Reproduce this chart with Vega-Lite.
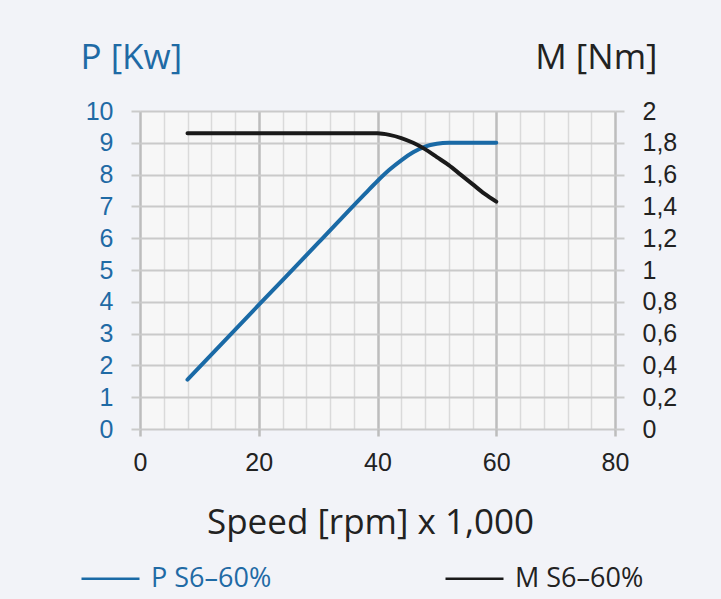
{
  "$schema": "https://vega.github.io/schema/vega-lite/v6.json",
  "width": 475,
  "height": 318,
  "autosize": {"type": "none"},
  "padding": {"left": 140, "top": 111, "right": 106, "bottom": 170},
  "background": "#f2f3f8",
  "config": {"view": {"fill": "#f7f7f7", "stroke": null}, "font": "Open Sans"},
  "datasets": {
    "power": [
      {"speed": 8, "value": 1.55, "series": "P"},
      {"speed": 20, "value": 3.9, "series": "P"},
      {"speed": 30, "value": 5.85, "series": "P"},
      {"speed": 38, "value": 7.42, "series": "P"},
      {"speed": 40, "value": 7.8, "series": "P"},
      {"speed": 42, "value": 8.15, "series": "P"},
      {"speed": 44, "value": 8.45, "series": "P"},
      {"speed": 46, "value": 8.7, "series": "P"},
      {"speed": 48, "value": 8.88, "series": "P"},
      {"speed": 50, "value": 8.97, "series": "P"},
      {"speed": 52, "value": 9.0, "series": "P"},
      {"speed": 60, "value": 9.0, "series": "P"}
    ],
    "torque": [
      {"speed": 8, "value": 1.86, "series": "M"},
      {"speed": 40, "value": 1.86, "series": "M"},
      {"speed": 42, "value": 1.85, "series": "M"},
      {"speed": 44, "value": 1.83, "series": "M"},
      {"speed": 46, "value": 1.8, "series": "M"},
      {"speed": 48, "value": 1.76, "series": "M"},
      {"speed": 50, "value": 1.71, "series": "M"},
      {"speed": 52, "value": 1.66, "series": "M"},
      {"speed": 54, "value": 1.6, "series": "M"},
      {"speed": 56, "value": 1.54, "series": "M"},
      {"speed": 58, "value": 1.48, "series": "M"},
      {"speed": 60, "value": 1.43, "series": "M"}
    ]
  },
  "layer": [
    {
      "data": {"name": "power"},
      "mark": {"type": "line", "interpolate": "monotone", "strokeWidth": 4, "strokeCap": "round"},
      "encoding": {
        "x": {
          "field": "speed", "type": "quantitative", "scale": {"domain": [0, 80]},
          "axis": {"orient": "bottom", "values": [4, 8, 12, 16, 24, 28, 32, 36, 44, 48, 52, 56, 64, 68, 72, 76], "grid": true, "gridColor": "#dadada", "gridWidth": 1.5, "labels": false, "ticks": false, "domain": false, "title": null}
        },
        "y": {
          "field": "value", "type": "quantitative", "scale": {"domain": [0, 10]},
          "axis": {
            "orient": "left", "values": [0, 1, 2, 3, 4, 5, 6, 7, 8, 9, 10],
            "grid": true, "gridColor": "#cacaca", "gridWidth": 2, "domain": false,
            "tickSize": 9, "tickColor": "#cacaca", "tickWidth": 2,
            "labelPadding": 18, "labelFont": "Liberation Sans Narrow, Liberation Sans, sans-serif", "labelFontSize": 25, "labelColor": "#1f6aa5",
            "title": "P [Kw]", "titleAngle": 0, "titleX": -60, "titleY": -43, "titleAlign": "left", "titleBaseline": "alphabetic",
            "titleFontSize": 35, "titleFontWeight": "normal", "titleColor": "#1f6aa5", "titleFont": "Open Sans"
          }
        },
        "color": {
          "field": "series", "type": "nominal",
          "scale": {"domain": ["P", "M"], "range": ["#1a6aa6", "#1a1a1a"]},
          "legend": {
            "orient": "none", "legendX": -60, "legendY": 437, "direction": "horizontal", "columns": 2, "columnPadding": 168,
            "symbolType": "stroke", "symbolSize": 3364, "symbolStrokeWidth": 2.5,
            "labelFontSize": 27, "labelOffset": 10, "labelFont": "Open Sans",
            "labelExpr": "datum.value + ' S6–60%'", "title": null,
            "encode": {"labels": {"update": {"fill": {"signal": "datum.value === 'P' ? '#1f6aa5' : '#222222'"}}}}
          }
        }
      }
    },
    {
      "data": {"name": "torque"},
      "mark": {"type": "line", "interpolate": "monotone", "strokeWidth": 4, "strokeCap": "round"},
      "encoding": {
        "x": {
          "field": "speed", "type": "quantitative", "scale": {"domain": [0, 80]},
          "axis": {
            "orient": "bottom", "values": [0, 20, 40, 60, 80], "grid": true, "gridColor": "#bdbdbd", "gridWidth": 2.5, "domain": false,
            "tickSize": 7, "tickColor": "#bdbdbd", "tickWidth": 2.5, "labelFlush": false,
            "labelPadding": 14, "labelFont": "Liberation Sans Narrow, Liberation Sans, sans-serif", "labelFontSize": 25, "labelColor": "#222222",
            "title": "Speed [rpm] x 1,000", "titleX": 230, "titleY": 104, "titleAlign": "center", "titleBaseline": "alphabetic",
            "titleFontSize": 35, "titleFontWeight": "normal", "titleColor": "#222222", "titleFont": "Open Sans"
          }
        },
        "y": {
          "field": "value", "type": "quantitative", "scale": {"domain": [0, 2]},
          "axis": {
            "orient": "right", "values": [0, 0.2, 0.4, 0.6, 0.8, 1, 1.2, 1.4, 1.6, 1.8, 2],
            "grid": false, "domain": false,
            "tickSize": 9, "tickColor": "#cacaca", "tickWidth": 2,
            "labelPadding": 18, "labelFont": "Liberation Sans Narrow, Liberation Sans, sans-serif", "labelFontSize": 25, "labelColor": "#222222",
            "labelExpr": "replace(format(datum.value, '.1~f'), '.', ',')",
            "title": "M [Nm]", "titleAngle": 0, "titleX": 42, "titleY": -43, "titleAlign": "right", "titleBaseline": "alphabetic",
            "titleFontSize": 35, "titleFontWeight": "normal", "titleColor": "#222222", "titleFont": "Open Sans"
          }
        },
        "color": {"field": "series", "type": "nominal"}
      }
    }
  ],
  "resolve": {"scale": {"y": "independent"}, "axis": {"x": "independent", "y": "independent"}}
}
